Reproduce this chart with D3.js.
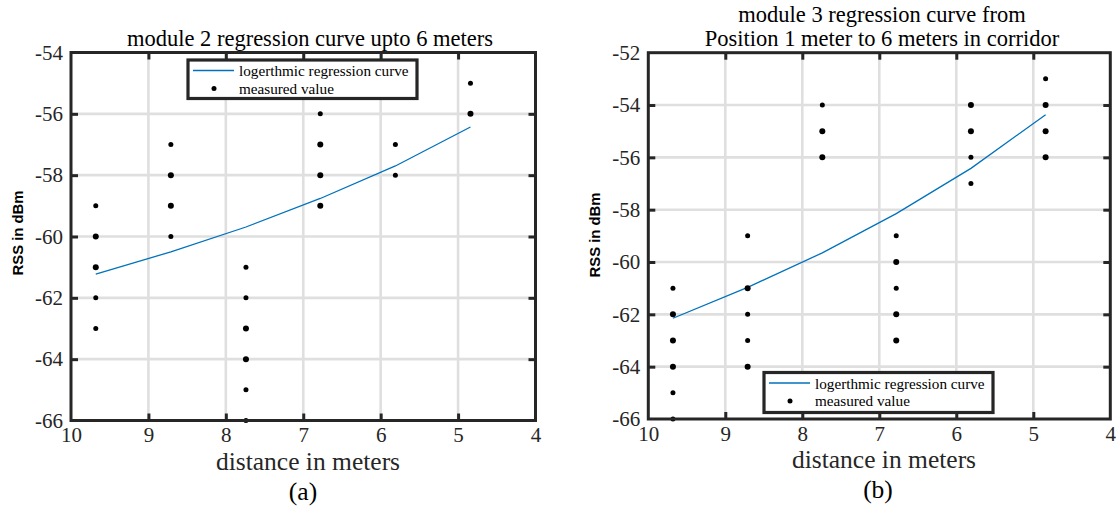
<!DOCTYPE html>
<html>
<head>
<meta charset="utf-8">
<script src="https://cdn.jsdelivr.net/npm/d3@7"></script>
<style>
  html, body { margin: 0; padding: 0; background: #fff; }
  svg { display: block; }
</style>
</head>
<body>
<svg id="chart" width="1116" height="508"></svg>
<script>
// ---- data ----
const distances = [9.68, 8.71, 7.74, 6.78, 5.81, 4.84];
const xTicks = [10, 9, 8, 7, 6, 5, 4];
const yTicksA = [-54, -56, -58, -60, -62, -64, -66];
const yTicksB = [-52, -54, -56, -58, -60, -62, -64, -66];

const curveA = [-61.23, -60.50, -59.69, -58.76, -57.70, -56.43];
const curveB = [-62.15, -60.97, -59.65, -58.15, -56.42, -54.37];

const measuredA = [
  [-59, -60, -60, -61, -61, -62, -63],
  [-57, -58, -58, -59, -59, -60],
  [-61, -62, -63, -63, -64, -64, -65, -66],
  [-56, -57, -57, -58, -58, -59, -59],
  [-57, -58],
  [-55, -56, -56]
];
const measuredB = [
  [-61, -62, -62, -63, -63, -64, -64, -65, -66],
  [-59, -61, -61, -62, -63, -64, -64],
  [-54, -55, -55, -56, -56],
  [-59, -60, -60, -61, -62, -62, -63, -63],
  [-54, -54, -55, -55, -56, -57],
  [-53, -54, -54, -55, -55, -56, -56]
];

const titleA = ["module 2 regression curve upto 6 meters"];
const titleB = ["module 3 regression curve from", "Position 1 meter to 6 meters in corridor"];
const xLabel = "distance in meters";
const yLabel = "RSS in dBm";
const legendLabels = ["logerthmic regression curve", "measured value"];
const captions = ["(a)", "(b)"];

// ---- drawing ----
const svg = d3.select("#chart");
const SERIF = "'Liberation Serif', 'Times New Roman', serif";
const SANS = "'Liberation Sans', Arial, sans-serif";
const DARK = "#262626";
const GRID = "#dfdfdf";
const BLUE = "#0072BD";

function panel(cfg) {
  const g = svg.append("g");
  const x = d3.scaleLinear().domain([10, 4]).range([cfg.x0, cfg.x1]);
  const y = d3.scaleLinear().domain(cfg.yDomain).range([cfg.y1, cfg.y0]);

  // grid
  g.append("g").selectAll("line").data(cfg.xTicks.slice(1, -1)).join("line")
    .attr("x1", d => x(d)).attr("x2", d => x(d))
    .attr("y1", cfg.y0).attr("y2", cfg.y1)
    .attr("stroke", GRID).attr("stroke-width", 2.6);
  g.append("g").selectAll("line").data(cfg.yTicks.slice(1, -1)).join("line")
    .attr("x1", cfg.x0).attr("x2", cfg.x1)
    .attr("y1", d => y(d)).attr("y2", d => y(d))
    .attr("stroke", GRID).attr("stroke-width", 2.6);

  // regression curve
  const line = d3.line().x((d, i) => x(distances[i])).y(d => y(d));
  g.append("path").datum(cfg.curve)
    .attr("d", line).attr("fill", "none")
    .attr("stroke", BLUE).attr("stroke-width", 1.3);

  // measured points (duplicates drawn a little larger)
  const pts = [];
  cfg.measured.forEach((vals, i) => {
    const counts = d3.rollup(vals, v => v.length, v => v);
    counts.forEach((c, v) => pts.push({ d: distances[i], v, c }));
  });
  g.append("g").selectAll("circle").data(pts).join("circle")
    .attr("cx", p => x(p.d)).attr("cy", p => y(p.v))
    .attr("r", p => p.c > 1 ? 3.0 : 2.5)
    .attr("fill", "#000");

  // axes (labels + inner ticks)
  const fmt = d => String(d);
  const ax = (axis, tr) => {
    const a = g.append("g").attr("transform", tr).call(axis);
    a.select(".domain").remove();
    a.selectAll(".tick line").attr("stroke", DARK).attr("stroke-width", 3);
    a.selectAll("text").attr("fill", DARK)
      .style("font-family", SERIF).style("font-size", "21px");
    return a;
  };
  ax(d3.axisBottom(x).tickValues(cfg.xTicks.slice(1, -1)).tickSize(-7).tickFormat(""),
     `translate(0,${cfg.y1})`);
  ax(d3.axisBottom(x).tickValues(cfg.xTicks).tickSize(0).tickPadding(7).tickFormat(fmt),
     `translate(0,${cfg.y1})`);
  ax(d3.axisTop(x).tickValues(cfg.xTicks.slice(1, -1)).tickSize(-7).tickFormat(""),
     `translate(0,${cfg.y0})`);
  ax(d3.axisLeft(y).tickValues(cfg.yTicks.slice(1, -1)).tickSize(-7).tickFormat(""),
     `translate(${cfg.x0},0)`);
  ax(d3.axisLeft(y).tickValues(cfg.yTicks).tickSize(0).tickPadding(8).tickFormat(fmt),
     `translate(${cfg.x0},0)`);
  ax(d3.axisRight(y).tickValues(cfg.yTicks.slice(1, -1)).tickSize(-7).tickFormat(""),
     `translate(${cfg.x1},0)`);

  // frame
  g.append("rect")
    .attr("x", cfg.x0).attr("y", cfg.y0)
    .attr("width", cfg.x1 - cfg.x0).attr("height", cfg.y1 - cfg.y0)
    .attr("fill", "none").attr("stroke", DARK).attr("stroke-width", 3);

  // title
  const t = g.append("text")
    .attr("text-anchor", "middle")
    .style("font-family", SERIF).style("font-size", "22.5px").attr("fill", "#000");
  cfg.title.forEach((s, i) => {
    t.append("tspan").attr("x", cfg.titleX)
      .attr("y", cfg.titleY - (cfg.title.length - 1 - i) * 24).text(s);
  });

  // x label
  g.append("text").attr("x", cfg.xLabelX).attr("y", cfg.y1 + 49)
    .attr("text-anchor", "middle")
    .style("font-family", SERIF).style("font-size", "25.5px").attr("fill", "#262626")
    .text(xLabel);
  // caption
  g.append("text").attr("x", cfg.capX).attr("y", cfg.y1 + 79)
    .attr("text-anchor", "middle")
    .style("font-family", SERIF).style("font-size", "25.5px").attr("fill", "#000")
    .text(cfg.caption);

  // y label
  g.append("text")
    .attr("transform", `translate(${cfg.yLabelX},${cfg.yLabelY}) rotate(-90)`)
    .attr("text-anchor", "middle").attr("dy", "0.35em")
    .attr("textLength", 85).attr("lengthAdjust", "spacingAndGlyphs")
    .style("font-family", SANS).style("font-size", "15px").style("font-weight", "bold")
    .attr("fill", "#000").text(yLabel);

  // legend
  const L = cfg.legend;
  const lg = g.append("g");
  lg.append("rect").attr("x", L.x).attr("y", L.y).attr("width", L.w).attr("height", L.h)
    .attr("fill", "#fff").attr("stroke", DARK).attr("stroke-width", 3.2);
  lg.append("line").attr("x1", L.x + 5).attr("x2", L.x + 46)
    .attr("y1", L.y + 10.5).attr("y2", L.y + 10.5)
    .attr("stroke", BLUE).attr("stroke-width", 1.3);
  lg.append("circle").attr("cx", L.x + 26).attr("cy", L.y + 28.5).attr("r", 2.5).attr("fill", "#000");
  lg.selectAll("text.lt").data(legendLabels).join("text").attr("class", "lt")
    .attr("x", L.x + 51).attr("y", (d, i) => L.y + 16 + i * 17.5)
    .style("font-family", SERIF).style("font-size", "15.2px").attr("fill", "#000")
    .text(d => d);
}

panel({
  x0: 71, x1: 535.5, y0: 52.5, y1: 420.5,
  yDomain: [-66, -54], xTicks, yTicks: yTicksA,
  curve: curveA, measured: measuredA,
  title: titleA, titleX: 310, titleY: 45.5,
  xLabelX: 308, capX: 303, caption: captions[0],
  yLabelX: 18, yLabelY: 233,
  legend: { x: 188, y: 60, w: 229, h: 38.5 }
});

panel({
  x0: 648.3, x1: 1110.3, y0: 52.7, y1: 419,
  yDomain: [-66, -52], xTicks, yTicks: yTicksB,
  curve: curveB, measured: measuredB,
  title: titleB, titleX: 882, titleY: 45.5,
  xLabelX: 884, capX: 878, caption: captions[1],
  yLabelX: 595, yLabelY: 235,
  legend: { x: 764, y: 372.5, w: 229, h: 40 }
});
</script>
</body>
</html>
